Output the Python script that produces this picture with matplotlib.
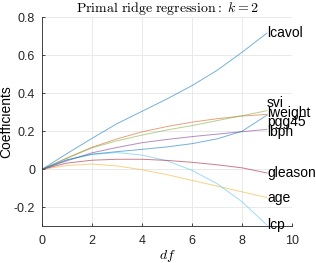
import numpy as np
import matplotlib.pyplot as plt

plt.rcParams['font.family'] = ['Liberation Sans', 'DejaVu Sans']
plt.rcParams['mathtext.fontset'] = 'cm'

DF = [0, 1, 2, 3, 4, 5, 6, 7, 8, 9]
LCAVOL = [0, 0.083, 0.163, 0.240, 0.305, 0.370, 0.440, 0.520, 0.615, 0.716]
LWEIGHT = [0, 0.060, 0.116, 0.160, 0.197, 0.225, 0.248, 0.266, 0.280, 0.289]
AGE = [0, 0.020, 0.028, 0.018, -0.002, -0.028, -0.058, -0.088, -0.118, -0.148]
LBPH = [0, 0.045, 0.087, 0.115, 0.140, 0.157, 0.172, 0.185, 0.198, 0.210]
SVI = [0, 0.058, 0.113, 0.150, 0.180, 0.207, 0.230, 0.256, 0.282, 0.308]
LCP = [0, 0.050, 0.078, 0.088, 0.075, 0.045, -0.005, -0.075, -0.170, -0.293]
GLEASON = [0, 0.033, 0.048, 0.053, 0.053, 0.047, 0.037, 0.024, 0.008, -0.019]
PGG45 = [0, 0.050, 0.080, 0.093, 0.105, 0.118, 0.135, 0.160, 0.200, 0.285]

NAMES = ['lcavol', 'lweight', 'age', 'lbph', 'svi', 'lcp', 'gleason', 'pgg45']
PATHS = [LCAVOL, LWEIGHT, AGE, LBPH, SVI, LCP, GLEASON, PGG45]

# MATLAB default line colours
COLORS = ['#0072BD', '#D95319', '#EDB120', '#7E2F8E',
          '#77AC30', '#4DBEEE', '#A2142F', '#0072BD']


def spreadLabels(values, gap):
    """Push end labels apart so they keep at least `gap` between them."""
    order = np.argsort(values)[::-1]
    groups = [[i] for i in order]
    changed = True
    while changed:
        changed = False
        pos = []
        for g in groups:
            c = np.mean([values[i] for i in g])
            n = len(g)
            pos.append([c + gap * ((n - 1) / 2 - k) for k in range(n)])
        for j in range(len(groups) - 1):
            if pos[j][-1] - pos[j + 1][0] < gap:
                groups[j] = groups[j] + groups[j + 1]
                del groups[j + 1]
                changed = True
                break
    out = {}
    for g in groups:
        c = np.mean([values[i] for i in g])
        n = len(g)
        for k, i in enumerate(g):
            out[i] = c + gap * ((n - 1) / 2 - k)
    return out


fig = plt.figure(figsize=(3.16, 2.63), dpi=100)
ax = fig.add_axes([0.133, 0.139, 0.791, 0.796])

for path, color in zip(PATHS, COLORS):
    ax.plot(DF, path, color=color, linewidth=0.7, alpha=0.55)

ends = [p[-1] for p in PATHS]
label_y = spreadLabels(ends, 0.05)
for i, name in enumerate(NAMES):
    ax.text(DF[-1], label_y[i], name, fontsize=10, color='black',
            ha='left', va='center')

ax.set_xlim(0, 10)
ax.set_ylim(-0.3, 0.8)
ax.set_xticks([0, 2, 4, 6, 8, 10])
ax.set_yticks([-0.2, 0, 0.2, 0.4, 0.6, 0.8])
ax.set_yticklabels(['-0.2', '0', '0.2', '0.4', '0.6', '0.8'])
ax.grid(True, color='#e6e6e6', linewidth=0.6)
ax.set_axisbelow(True)
for side in ['top', 'right']:
    ax.spines[side].set_visible(False)
for side in ['left', 'bottom']:
    ax.spines[side].set_color('#262626')
    ax.spines[side].set_linewidth(0.6)
ax.tick_params(direction='in', length=2.5, width=0.6, colors='#262626',
               labelsize=9)
ax.tick_params(axis='x', pad=6)
ax.tick_params(axis='y', pad=5)

ax.set_title(r'$\mathrm{Primal\ ridge\ regression:}\ k = 2$', fontsize=10,
             pad=4)
ax.set_xlabel(r'$df$', fontsize=10, labelpad=1)
ax.set_ylabel('Coefficients', fontsize=10)
ax.yaxis.set_label_coords(-0.115, 0.5)

fig.savefig('out.png', dpi=100)
